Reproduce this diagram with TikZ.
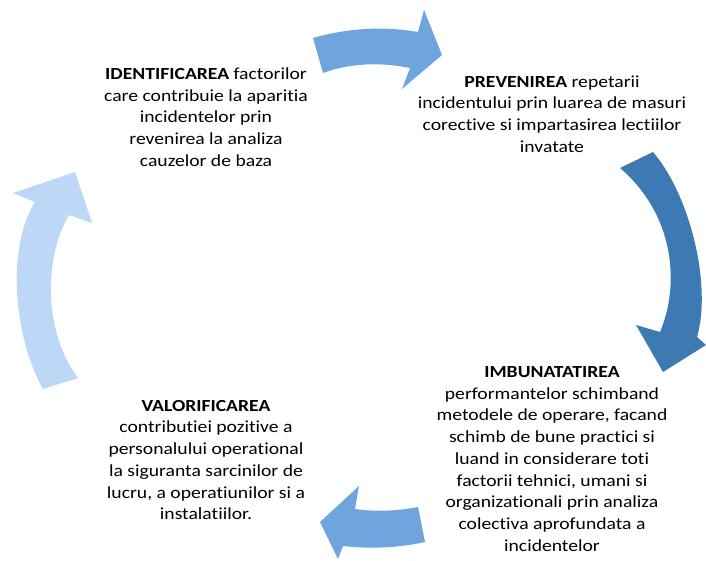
\documentclass[tikz,border=0pt]{standalone}
\usepackage{fontspec}
\setmainfont{Carlito}[FakeStretch=1.16,Ligatures=NoCommon]
\definecolor{LightBlue}{HTML}{BDD7F7}
\definecolor{MidBlue}{HTML}{6FA5DE}
\definecolor{DarkBlue}{HTML}{3D79B3}
\tikzset{
	stage/.style={
		align=center,inner sep=0pt,font=\fontsize{12.7}{16.3}\selectfont},
	blockarrow/.style={fill=#1,draw=none}
}
\def\kw#1{\textbf{#1}}

\begin{document}
\begin{tikzpicture}[x=0.75pt,y=-0.75pt]
			\useasboundingbox (0,0) rectangle (706,560);
			% the four stages
			\node[stage] (ident) at (206,117) {\kw{IDENTIFICAREA} factorilor\\care contribuie la aparitia\\incidentelor prin\\revenirea la analiza\\cauzelor de baza};
			\node[stage] (prev) at (552,114) {\kw{PREVENIREA} repetarii\\incidentului prin luarea de masuri\\corective si impartasirea lectiilor\\invatate};
			\node[stage] (imbun) at (552,459) {\kw{IMBUNATATIREA}\\performantelor schimband\\metodele de operare, facand\\schimb de bune practici si\\luand in considerare toti\\factorii tehnici, umani si\\organizationali prin analiza\\colectiva aprofundata a\\incidentelor};
			\node[stage] (valor) at (206,460) {\kw{VALORIFICAREA}\\contributiei pozitive a\\personalului operational\\la siguranta sarcinilor de\\lucru, a operatiunilor si a\\instalatiilor.};
			% curved block arrows
			\fill[blockarrow=MidBlue] (313,38) .. controls (348,28) and (384,26) .. (418,32)
				-- (424,10) -- (442,55) -- (402,89) -- (410,68)
				.. controls (381,62) and (350,63) .. (323,73) -- cycle;
			\fill[blockarrow=DarkBlue] (620,168) -- (653,152)
				.. controls (690,195) and (712,285) .. (697,337)
				-- (706,345) -- (663,372) -- (636,325) -- (660,332)
				.. controls (680,285) and (675,215) .. (620,168) -- cycle;
			\fill[blockarrow=MidBlue] (418,507) .. controls (397,511) and (376,512) .. (355,509)
				-- (359,486) -- (320,522) -- (338,559) -- (343,546)
				.. controls (370,549) and (398,548) .. (425,542) -- cycle;
			\fill[blockarrow=LightBlue] (43,389) .. controls (15,340) and (5,250) .. (35,202)
				-- (13,193) -- (75,172) -- (92,223) -- (69,215)
				.. controls (45,255) and (42,330) .. (78,378) -- cycle;
			\end{tikzpicture}
\end{document}
